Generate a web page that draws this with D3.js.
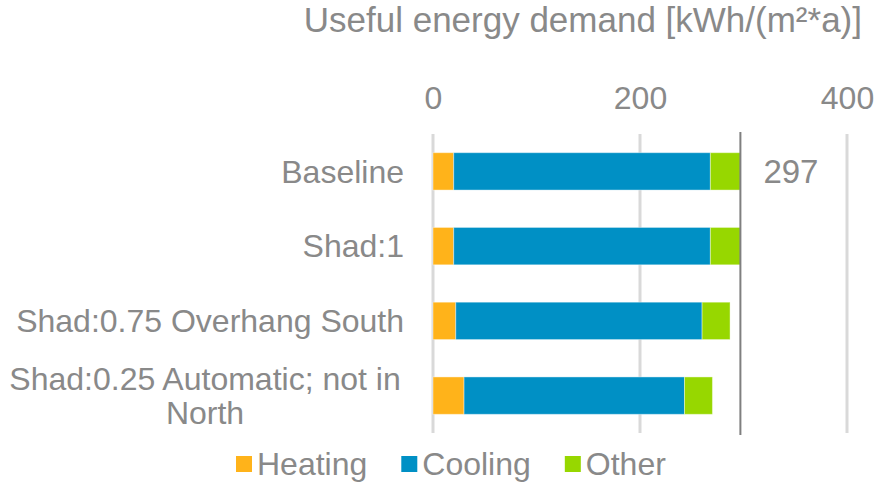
<!DOCTYPE html>
<html>
<head>
<meta charset="utf-8">
<script src="https://cdn.jsdelivr.net/npm/d3@7/dist/d3.min.js"></script>
<style>
  html, body { margin: 0; padding: 0; background: #fff; }
  svg text { font-family: "Liberation Sans", Arial, sans-serif; fill: #898989; }
</style>
</head>
<body>
<svg id="chart" width="885" height="483"></svg>
<script>
// chart values
const categories = ['Baseline', 'Shad:1', 'Shad:0.75 Overhang South', 'Shad:0.25 Automatic; not in North'];
const heating = [20, 20, 22, 30];
const cooling = [248, 248, 238, 213];
const other = [29, 29, 27, 27];
const seriesNames = ['Heating', 'Cooling', 'Other'];
const seriesColors = ['#FFB31A', '#0090C5', '#97D700'];
const xTicks = [0, 200, 400];
const refValue = 297;
const titleText = 'Useful energy demand [kWh/(m²*a)]';

const svg = d3.select('#chart');
const M = { top: 134, left: 433, right: 38, bottom: 50 };
const W = 885, H = 483;
const FS = '32px';

const x = d3.scaleLinear().domain([0, 400]).range([M.left, W - M.right]);
const y = d3.scaleBand().domain(categories).range([M.top, H - M.bottom]).paddingInner(0.5).paddingOuter(0.25);

// title
svg.append('text').attr('x', 862).attr('y', 32).attr('text-anchor', 'end')
  .style('font-size', '35px').text(titleText);

// gridlines
svg.append('g').selectAll('line').data(xTicks).join('line')
  .attr('x1', (d) => x(d)).attr('x2', (d) => x(d))
  .attr('y1', M.top).attr('y2', H - M.bottom)
  .attr('stroke', '#d9d9d9').attr('stroke-width', 3);

// top axis labels
const ax = svg.append('g').attr('transform', `translate(0,${M.top - 25})`)
  .call(d3.axisTop(x).tickValues(xTicks).tickSize(0).tickPadding(0));
ax.select('.domain').remove();
ax.selectAll('text').style('font-size', FS).attr('fill', '#898989');

// stacked bars
const rows = categories.map((c, i) => ({ c, v: [heating[i], cooling[i], other[i]] }));
const segs = [];
rows.forEach((r) => {
  let acc = 0;
  r.v.forEach((v, k) => { segs.push({ c: r.c, x0: acc, x1: acc + v, k }); acc += v; });
});
svg.append('g').selectAll('rect').data(segs).join('rect')
  .attr('x', (d) => x(d.x0)).attr('width', (d) => x(d.x1) - x(d.x0))
  .attr('y', (d) => y(d.c)).attr('height', y.bandwidth())
  .attr('fill', (d) => seriesColors[d.k])
  .attr('stroke', '#ffffff').attr('stroke-opacity', 0.4).attr('stroke-width', 1);

// reference line + label
svg.append('line').attr('x1', x(refValue)).attr('x2', x(refValue))
  .attr('y1', M.top - 2).attr('y2', H - M.bottom + 2)
  .attr('stroke', '#7f7f7f').attr('stroke-width', 2);
svg.append('text').attr('x', x(refValue) + 23).attr('y', y(categories[0]) + y.bandwidth() / 2)
  .attr('dy', '0.35em').style('font-size', '33px').text(refValue);

// category labels (last one wraps)
const labelLines = [['Baseline'], ['Shad:1'], ['Shad:0.75 Overhang South'], ['Shad:0.25 Automatic; not in', 'North']];
categories.forEach((c, i) => {
  const lines = labelLines[i];
  const cy = y(c) + y.bandwidth() / 2;
  const lh = 34;
  const lx = i === 3 ? 205 : 404;
  const t = svg.append('text').attr('text-anchor', i === 3 ? 'middle' : 'end')
    .attr('x', lx).style('font-size', FS);
  lines.forEach((ln, j) => {
    t.append('tspan').attr('x', lx)
      .attr('y', cy + (j - (lines.length - 1) / 2) * lh).attr('dy', '0.35em').text(ln);
  });
});

// legend
const lg = svg.append('g').attr('transform', 'translate(236,464)');
let lx = 0;
seriesNames.forEach((n, k) => {
  const g = lg.append('g').attr('transform', `translate(${lx},0)`);
  g.append('rect').attr('x', 0).attr('y', -8).attr('width', 16).attr('height', 16).attr('fill', seriesColors[k]);
  const t = g.append('text').attr('x', 21).attr('dy', '0.35em').style('font-size', FS).text(n);
  lx += 21 + t.node().getComputedTextLength() + 34;
});
</script>
</body>
</html>
